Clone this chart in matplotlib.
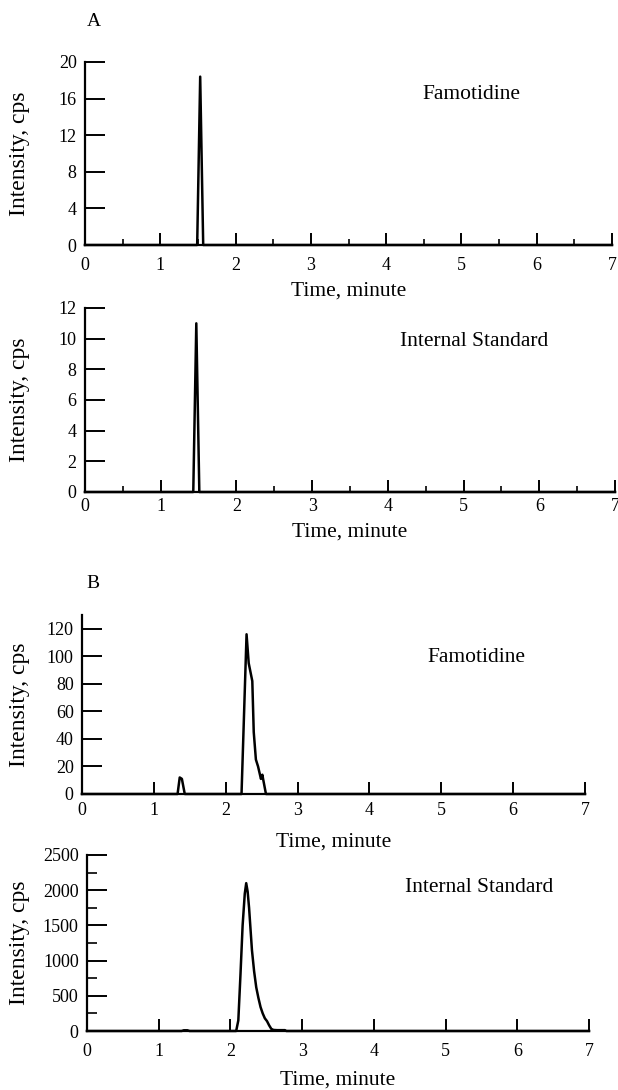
import matplotlib
matplotlib.use("Agg")
import matplotlib.pyplot as plt
from matplotlib.ticker import MultipleLocator
from matplotlib.transforms import ScaledTranslation

plt.rcParams['font.family'] = ['Liberation Serif', 'DejaVu Serif']
plt.rcParams['font.size'] = 13

# --- data ---
# A: blank-ish sample
tA1 = [0, 1.49, 1.53, 1.57, 7]
yA1 = [0, 0, 18.4, 0, 0]
tA2 = [0, 1.43, 1.47, 1.51, 7]
yA2 = [0, 0, 11.0, 0, 0]

# B: spiked sample
tB1 = [0, 1.33, 1.36, 1.39, 1.43, 2.22, 2.29, 2.32, 2.37, 2.39, 2.42, 2.45,
       2.49, 2.51, 2.52, 2.56, 7]
yB1 = [0, 0, 12, 11, 0, 0, 116, 95, 82, 45, 25, 20, 11, 14, 11, 0, 0]
tB2 = [0, 1.32, 1.35, 1.40, 1.43, 2.08, 2.11, 2.14, 2.17, 2.20, 2.22, 2.24,
       2.26, 2.28, 2.30, 2.33, 2.36, 2.39, 2.42, 2.45, 2.48, 2.51, 2.54,
       2.57, 2.60, 2.65, 2.70, 2.76, 2.78, 7]
yB2 = [0, 0, 10, 10, 0, 0, 150, 800, 1500, 1950, 2100, 1980, 1750, 1450,
       1150, 850, 620, 470, 340, 250, 180, 140, 80, 30, 15, 12, 12, 12, 0, 0]

fig = plt.figure(figsize=(6.18, 10.9), dpi=100)
W, H = 618.0, 1090.0


def make_ax(left, right, top, bottom):
    ax = fig.add_axes([left / W, 1 - bottom / H, (right - left) / W, (bottom - top) / H])
    ax.px = (left, right, top, bottom)
    return ax


def style(ax, ymax, ystep, xpad, xlab_y, yminor=None, xminor=True):
    left, right, top, bottom = ax.px
    for s in ['top', 'right']:
        ax.spines[s].set_visible(False)
    for s in ['left', 'bottom']:
        ax.spines[s].set_linewidth(1.6)
    ax.set_xlim(0, 7)
    ax.set_ylim(0, ymax)
    ax.xaxis.set_major_locator(MultipleLocator(1))
    ax.yaxis.set_major_locator(MultipleLocator(ystep))
    if xminor:
        ax.xaxis.set_minor_locator(MultipleLocator(0.5))
    if yminor:
        ax.yaxis.set_minor_locator(MultipleLocator(yminor))
    ax.tick_params(axis='x', which='major', direction='in', length=8.5, width=1.4, pad=xpad)
    ax.tick_params(axis='x', which='minor', direction='in', length=4.5, width=1.2)
    ax.tick_params(axis='y', which='major', direction='in', length=14.5, width=1.4, pad=6)
    ax.tick_params(axis='y', which='minor', direction='in', length=7.5, width=1.2)
    ax.set_ylabel('Intensity, cps', fontsize=17)
    ax.set_xlabel('Time, minute', fontsize=15.5)
    ax.yaxis.set_label_coords((20 - left) / (right - left), 0.5)
    ax.xaxis.set_label_coords(0.5, -(xlab_y - bottom) / (bottom - top))
    ax.xaxis.label.set_va('center')
    ax.yaxis.label.set_va('center')
    for lab in ax.get_xticklabels() + ax.get_yticklabels():
        lab.set_clip_on(False)


def note(x, y, s):
    fig.text(x / W, 1 - y / H, s, ha='center', va='center', fontsize=15.5)


axA1 = make_ax(85, 612, 62, 245)
axA1.plot(tA1, yA1, color='black', lw=1.8, clip_on=False)
style(axA1, 20, 4, xpad=9, xlab_y=291)
note(471, 94, 'Famotidine')

axA2 = make_ax(85, 615, 308, 492)
axA2.plot(tA2, yA2, color='black', lw=1.8, clip_on=False)
style(axA2, 12, 2, xpad=4.5, xlab_y=532)
note(474, 341, 'Internal Standard')

axB1 = make_ax(82, 585, 615, 794)
axB1.plot(tB1, yB1, color='black', lw=1.8, clip_on=False)
style(axB1, 130, 20, xpad=6, xlab_y=842, xminor=False)
axB1.set_yticks([0, 20, 40, 60, 80, 100, 120])
note(476, 657, 'Famotidine')
# the "0" on this axis sits a little higher than the others
fig.canvas.draw()
zero_lab = axB1.get_xticklabels()[0]
zero_lab.set_transform(zero_lab.get_transform() + ScaledTranslation(0, 6 / 72, fig.dpi_scale_trans))

axB2 = make_ax(87, 589, 855, 1031)
axB2.plot(tB2, yB2, color='black', lw=1.8, clip_on=False)
style(axB2, 2500, 500, xpad=9, xlab_y=1080, yminor=250, xminor=False)
note(479, 887, 'Internal Standard')

fig.text(94 / W, 1 - 21 / H, 'A', ha='center', va='center', fontsize=14)
fig.text(93 / W, 1 - 584 / H, 'B', ha='center', va='center', fontsize=14)

fig.savefig('out.png', dpi=100)
